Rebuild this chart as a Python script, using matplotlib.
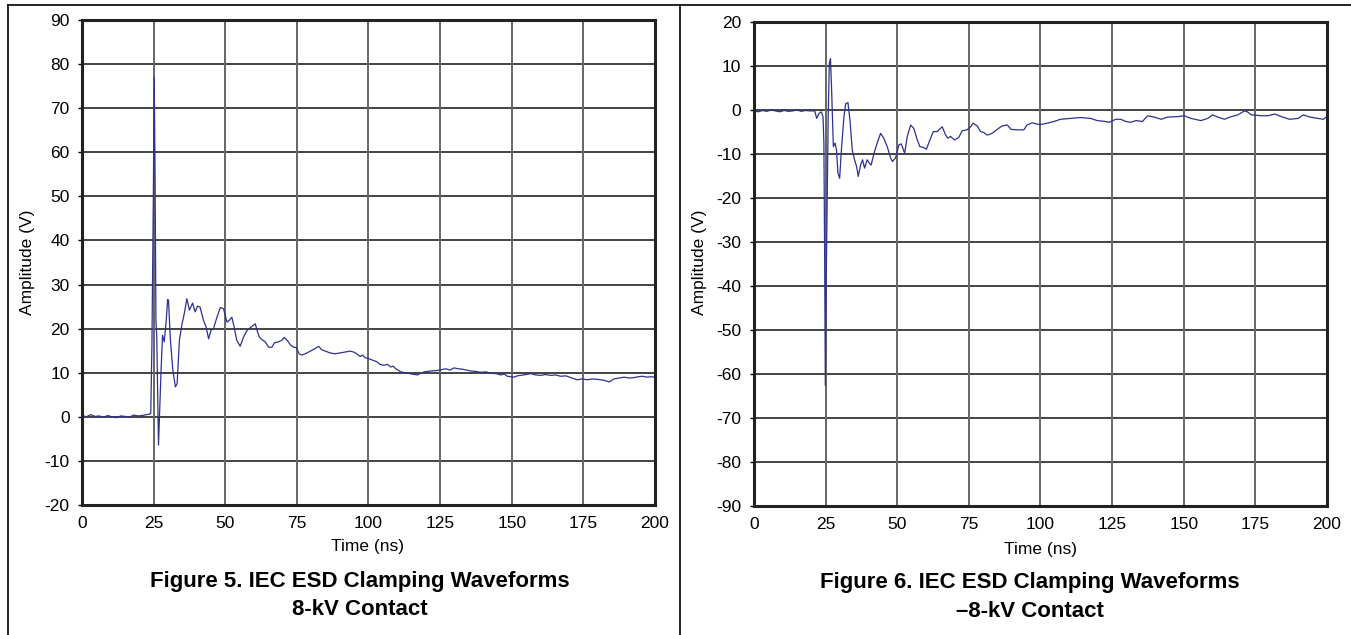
# Recreation of two IEC ESD clamping waveform plots (Figure 5 and Figure 6)

import matplotlib
matplotlib.use("Agg")
import matplotlib.pyplot as plt
from matplotlib.lines import Line2D

plt.rcParams['font.family'] = ['Liberation Sans', 'DejaVu Sans']
plt.rcParams['axes.unicode_minus'] = False

# Figure 5: +8 kV contact, time (ns) and amplitude (V)
t_pos = [0, 1.5, 3, 4.5, 6, 7.5, 9, 10.5, 12, 13.5, 15, 16.5, 18, 19.5, 21, 22.5,
         23.5, 24.0, 24.4, 24.9, 25.2, 25.5, 25.8, 26.1, 26.7, 27.2, 27.6, 28.1,
         28.7, 29.4, 29.9, 30.2, 30.8, 31.7, 32.6, 33.2, 34.0, 34.9, 35.7, 36.6,
         37.5, 38.6, 39.5, 40.3, 41.2, 42.4, 43.3, 44.2, 45.0, 45.9, 47.1, 48.3,
         49.4, 50.6, 51.4, 52.3, 53.1, 54.0, 55.2, 56.4, 57.6, 58.7, 59.9, 60.5,
         61.1, 61.9, 62.8, 64.0, 65.1, 66.3, 67.2, 68.6, 69.8, 70.6, 71.8, 72.9,
         73.9, 74.8, 75.8, 76.7, 77.9, 79.7, 81.4, 82.6, 83.7, 84.9, 86.6, 88.4,
         90.1, 91.9, 93.6, 94.8, 95.9, 97.1, 98.0, 98.8, 100.0, 101.7, 102.9, 104.0,
         105.5, 106.6, 107.8, 108.6, 109.5, 111.3, 113.6, 115.2, 117.1, 118.3, 119.4,
         121.7, 124.0, 125.5, 127.0, 128.4, 129.9, 131.3, 132.8, 134.2, 135.7, 137.4,
         139.2, 141.0, 142.7, 144.5, 146.2, 147.4, 148.5, 150.8, 152.0, 153.1, 155.0,
         156.6, 158.4, 160.1, 161.8, 163.6, 165.3, 167.1, 168.9, 170.6, 172.9, 174.6,
         176.4, 178.1, 179.9, 182.2, 184.0, 185.7, 187.5, 189.2, 190.9, 192.7, 194.2,
         195.6, 197.3, 198.6, 200.0]
v_pos = [0.3, 0.0, 0.5, 0.1, 0.2, -0.1, 0.3, 0.0, -0.2, 0.2, 0.1, -0.1, 0.4, 0.2, 0.3, 0.5,
         0.6, 0.8, 16.0, 50.0, 77.0, 55.0, 22.0, 18.0, -6.4, 3.0, 10.6, 18.5,
         17.0, 21.9, 26.6, 26.4, 18.0, 10.6, 6.8, 7.5, 17.4, 21.0, 23.4, 26.8,
         24.2, 25.8, 23.8, 25.1, 24.9, 21.9, 20.4, 17.7, 19.6, 20.0, 22.6, 24.8,
         24.5, 21.5, 21.9, 22.6, 20.4, 17.4, 16.0, 18.1, 19.6, 20.2, 20.8, 21.1,
         19.6, 18.1, 17.5, 17.0, 15.8, 15.8, 16.8, 17.0, 17.4, 18.0, 17.2, 16.2,
         15.8, 15.7, 14.3, 14.0, 14.3, 14.9, 15.5, 16.0, 15.2, 14.9, 14.5, 14.3,
         14.5, 14.7, 14.9, 14.7, 14.3, 13.7, 14.0, 13.4, 13.2, 12.8, 12.5, 11.9,
         11.7, 11.9, 11.3, 11.5, 10.9, 10.2, 9.9, 9.7, 9.5, 9.9, 10.2,
         10.4, 10.5, 10.7, 10.9, 10.6, 11.1, 10.9, 10.8, 10.6, 10.4, 10.3,
         10.1, 10.2, 9.9, 9.8, 9.5, 9.7, 9.2, 9.0, 9.3, 9.4, 9.6,
         9.8, 9.5, 9.4, 9.6, 9.4, 9.5, 9.2, 9.3, 8.9, 8.4, 8.6,
         8.4, 8.6, 8.5, 8.3, 7.9, 8.6, 8.8, 9.0, 8.8, 8.9, 9.1,
         9.2, 9.0, 9.1, 9.0]

# Figure 6: -8 kV contact
t_neg = [0, 1.5, 3, 4.5, 6, 7.5, 9, 10.5, 12, 13.5, 15, 16.5, 18, 19.5, 21.2, 21.9,
         22.7, 23.5, 24.1, 24.4, 24.65, 24.9, 25.2, 25.6, 25.9, 26.3, 26.7, 27.1,
         27.7, 28.3, 28.8, 29.3, 29.9, 30.5, 31.4, 32.0, 32.8, 33.5, 34.3, 35.1,
         35.8, 36.4, 37.2, 37.9, 38.6, 39.5, 40.3, 40.9, 41.9, 43.0, 44.2, 45.3,
         46.5, 47.7, 48.3, 49.4, 50.6, 51.4, 52.6, 53.5, 54.7, 55.8, 57.0, 57.9,
         59.1, 60.2, 61.4, 62.6, 63.9, 65.7, 66.9, 67.7, 68.6, 70.0, 71.5, 72.7,
         74.4, 75.6, 76.5, 77.9, 79.1, 80.2, 81.4, 83.1, 84.9, 86.6, 88.4, 89.8,
         91.9, 94.2, 95.3, 97.1, 98.8, 100.0, 102.3, 104.7, 107.0, 110.5, 114.0,
         117.5, 119.8, 122.7, 123.9, 126.3, 128.0, 129.8, 131.5, 133.3, 135.6, 137.4,
         139.7, 142.1, 144.4, 147.9, 150.2, 152.5, 156.0, 158.4, 160.1, 161.9, 164.2,
         166.6, 168.9, 171.2, 172.2, 173.6, 177.1, 179.4, 181.8, 184.1, 187.0, 190.0,
         191.7, 194.1, 197.0, 198.7, 200.0]
v_neg = [-0.2, -0.4, -0.1, -0.3, 0.0, -0.2, -0.4, -0.1, -0.3, -0.2, 0.0, -0.3, -0.1, -0.2, -0.2, -1.9,
         -0.75, -0.4, -1.5, -7.5, -31.7, -62.6, -39.0, -16.6, -1.5, 10.6, 11.7, 4.5,
         -8.3, -7.5, -9.1, -14.3, -15.5, -9.1, -1.5, 1.4, 1.7, -2.3, -9.1, -11.3,
         -12.8, -15.1, -12.5, -11.3, -13.2, -11.3, -12.1, -12.5, -9.8, -7.5, -5.3, -6.4,
         -8.3, -10.9, -11.7, -10.9, -7.9, -7.7, -9.8, -6.0, -3.4, -4.2, -6.8, -8.3,
         -8.5, -8.9, -6.8, -4.9, -4.9, -3.8, -5.7, -6.4, -6.0, -6.8, -6.2, -4.7,
         -4.5, -3.8, -3.0, -3.6, -4.9, -5.1, -5.7, -5.3, -4.4, -3.6, -3.4, -4.4,
         -4.5, -4.5, -3.4, -2.9, -3.2, -3.3, -3.0, -2.6, -2.1, -1.9, -1.7,
         -1.9, -2.4, -2.6, -2.8, -2.1, -2.1, -2.6, -2.8, -2.4, -2.6, -1.3,
         -1.6, -2.1, -1.6, -1.5, -1.3, -1.9, -2.4, -1.9, -1.1, -1.6, -2.1,
         -1.5, -1.1, -0.2, -0.4, -1.1, -1.3, -1.3, -0.9, -1.5, -2.1, -1.9,
         -1.1, -1.6, -1.9, -2.1, -1.5]

x_ticks = [0, 25, 50, 75, 100, 125, 150, 175, 200]
line_color = '#2e3192'

fig = plt.figure(figsize=(13.51, 6.35), dpi=100)

# page frame like the datasheet table
fig.add_artist(Line2D([0.0059, 1.0], [0.9921, 0.9921], color='black', lw=1.2))
fig.add_artist(Line2D([0.0059, 0.0059], [0.0, 0.9921], color='black', lw=1.2))
fig.add_artist(Line2D([0.5033, 0.5033], [0.0, 0.9921], color='black', lw=1.2))

ax1 = fig.add_axes([0.0607, 0.2047, 0.4241, 0.7638])
ax2 = fig.add_axes([0.5581, 0.2031, 0.4241, 0.7622])

for ax, t, v, ylim, yticks in [(ax1, t_pos, v_pos, (-20, 90), range(-20, 91, 10)),
                               (ax2, t_neg, v_neg, (-90, 20), range(-90, 21, 10))]:
    ax.plot(t, v, color=line_color, lw=0.9)
    ax.set_xlim(0, 200)
    ax.set_ylim(*ylim)
    ax.set_xticks(x_ticks)
    ax.set_yticks(list(yticks))
    for y in yticks:
        ax.axhline(y, color='#111111', lw=1.1, zorder=0)
    for x in x_ticks[1:-1]:
        ax.axvline(x, color='#666666', lw=1.4, zorder=0)
    for s in ax.spines.values():
        s.set_color('#222222')
        s.set_linewidth(2.2)
    ax.tick_params(axis='x', length=0, pad=8, labelsize=12.5)
    ax.tick_params(axis='y', length=3, width=1, pad=6, labelsize=12.5)

fig.text(0.0207, 0.587, 'Amplitude (V)', rotation=90, ha='center', va='center', fontsize=12.5)
fig.text(0.518, 0.587, 'Amplitude (V)', rotation=90, ha='center', va='center', fontsize=12.5)
fig.text(0.272, 0.1386, 'Time (ns)', ha='center', va='center', fontsize=12.5)
fig.text(0.770, 0.134, 'Time (ns)', ha='center', va='center', fontsize=12.5)

fig.text(0.266, 0.085, 'Figure 5. IEC ESD Clamping Waveforms', ha='center', va='center',
         fontsize=16, fontweight='bold')
fig.text(0.266, 0.040, '8-kV Contact', ha='center', va='center', fontsize=16, fontweight='bold')
fig.text(0.762, 0.082, 'Figure 6. IEC ESD Clamping Waveforms', ha='center', va='center',
         fontsize=16, fontweight='bold')
fig.text(0.762, 0.037, '\u20138-kV Contact', ha='center', va='center', fontsize=16, fontweight='bold')

plt.savefig('out.png', dpi=100)
